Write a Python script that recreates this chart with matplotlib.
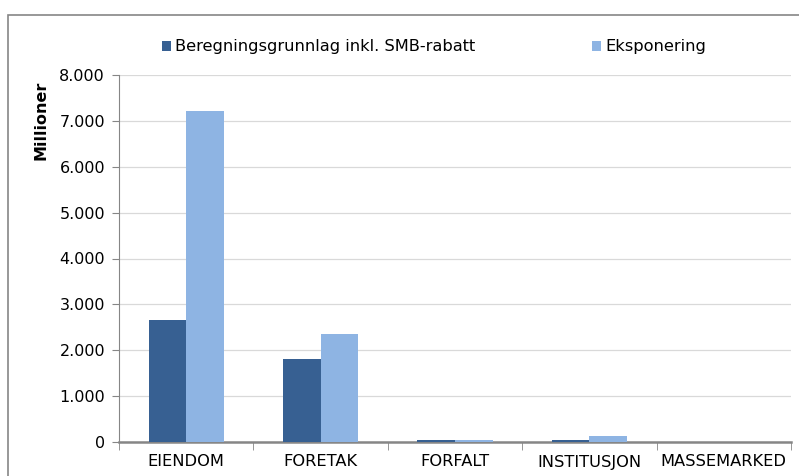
import matplotlib.pyplot as plt
from matplotlib.patches import Rectangle
import numpy as np

kategorier = ["EIENDOM", "FORETAK", "FORFALT", "INSTITUSJON", "MASSEMARKED"]
beregningsgrunnlag = [2660, 1800, 40, 40, 5]
eksponering = [7220, 2350, 35, 130, 5]
serier = ["Beregningsgrunnlag inkl. SMB-rabatt", "Eksponering"]
yticks = [0, 1000, 2000, 3000, 4000, 5000, 6000, 7000, 8000]
yticklabels = ["0", "1.000", "2.000", "3.000", "4.000", "5.000", "6.000", "7.000", "8.000"]

fig = plt.figure(figsize=(7.99, 4.76), dpi=100)
fig.patches.append(Rectangle((8 / 799, -0.1), 1.1, 1 - 15 / 476 + 0.1, transform=fig.transFigure,
                             fill=False, edgecolor="#868686", linewidth=1.2))
ax = fig.add_axes([119 / 799, (476 - 442) / 476, (791 - 119) / 799, (442 - 75) / 476])

x = np.arange(len(kategorier))
w = 0.28
ax.bar(x - w / 2, beregningsgrunnlag, w, color="#376092", label=serier[0], zorder=3)
ax.bar(x + w / 2, eksponering, w, color="#8EB4E3", label=serier[1], zorder=3)

ax.set_xlim(-0.5, len(kategorier) - 0.5)
ax.set_ylim(0, 8000)
ax.set_yticks(yticks)
ax.set_yticklabels(yticklabels, fontsize=11.5)
ax.set_xticks(x)
ax.set_xticklabels(kategorier, family="DejaVu Sans Condensed", fontsize=11.7)
ax.set_xticks(np.arange(len(kategorier) + 1) - 0.5, minor=True)
ax.tick_params(axis="x", which="major", length=0, pad=9)
ax.tick_params(axis="x", which="minor", length=6, color="#868686", direction="out")
ax.tick_params(axis="y", length=5, color="#868686", direction="out", pad=5)
ax.grid(axis="y", color="#d9d9d9", linewidth=0.9, zorder=0)
for s in ["top", "right"]:
    ax.spines[s].set_visible(False)
ax.spines["left"].set_color("#868686")
ax.spines["bottom"].set_color("#868686")
ax.spines["bottom"].set_linewidth(1.8)
ax.set_ylabel("Millioner", fontsize=11.5, fontweight="bold")
ax.yaxis.set_label_coords(-0.105, 0.877)

fig.legend(loc="center left", bbox_to_anchor=(162 / 799, 1 - 47 / 476), ncol=2, frameon=False,
           borderpad=0, borderaxespad=0, columnspacing=7.2, handlelength=0.55, handleheight=0.55,
           handletextpad=0.25, prop={"family": "DejaVu Sans Condensed", "size": 11.7})

fig.savefig("out.png", dpi=100)
